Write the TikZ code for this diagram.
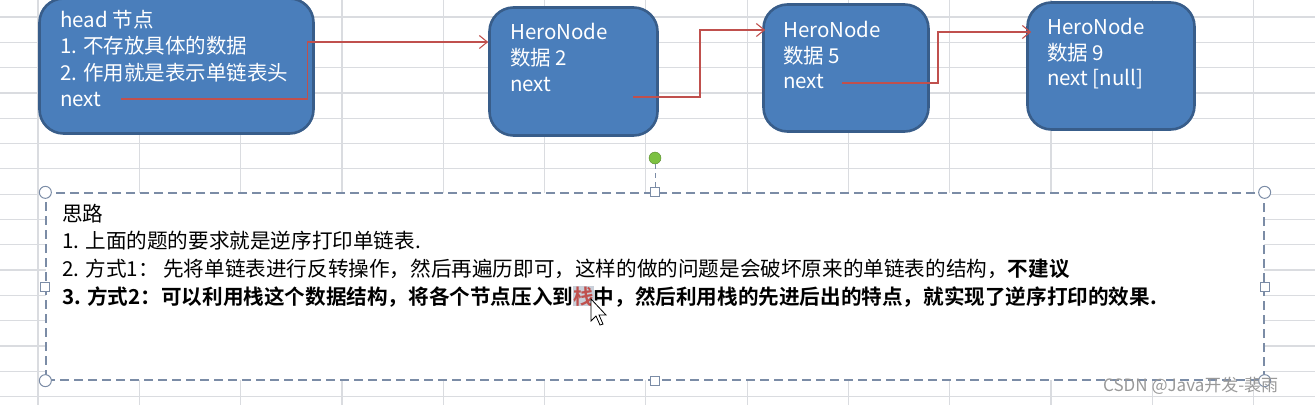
\documentclass[tikz,border=0pt]{standalone}
\usepackage{fontspec}
\setmainfont{Noto Sans CJK SC}[BoldFont={Noto Sans CJK SC Bold}]
\usetikzlibrary{arrows.meta}
\definecolor{nodoazul}{HTML}{4A7EBB}
\definecolor{bordeazul}{HTML}{385D8A}
\definecolor{flecharoja}{HTML}{C0504D}
\definecolor{rejilla}{HTML}{DADCE0}
\definecolor{marco}{HTML}{7B8CA6}
\definecolor{verde}{HTML}{7CC142}
\definecolor{resalte}{HTML}{C9CFD9}
\setlength{\fboxsep}{0pt}

\begin{document}
\begin{tikzpicture}[x=1pt,y=-1pt,
  nodo/.style={draw=bordeazul,fill=nodoazul,line width=2.6pt,rounded corners=24pt,inner sep=0pt},
  txt/.style={anchor=base west,inner sep=0pt,text=white,font=\fontsize{20.5}{24}\selectfont},
  enlace/.style={draw=flecharoja,line width=1.1pt,-{Straight Barb[length=8pt,width=13pt]}},
  idea/.style={anchor=base west,inner sep=0pt,font=\fontsize{20.6}{26}\selectfont},
  asa/.style={draw=marco,fill=white,line width=1pt}]
  \useasboundingbox (0,0) rectangle (1315,405);
  % cuadricula de la hoja
  \foreach \i in {0,...,12} \draw[rejilla,line width=1.2pt] ({38+101.3*\i},0) -- ({38+101.3*\i},405);
  \foreach \j in {0,...,15} \draw[rejilla,line width=1.2pt] (0,{17+25.3*\j}) -- (1315,{17+25.3*\j});
  % nodos de la lista
  \node[nodo,minimum width=274pt,minimum height=135pt] (head) at (176.5,66) {};
  \node[nodo,minimum width=168pt,minimum height=128pt] (n2) at (573.5,71.5) {};
  \node[nodo,minimum width=165pt,minimum height=127pt] (n5) at (846,68) {};
  \node[nodo,minimum width=167pt,minimum height=127pt] (n9) at (1111,66) {};
  \node[txt] (h1) at (60,27.5) {head 节点};
  \node[txt] (h2) at (60,53.5) {1. 不存放具体的数据};
  \node[txt] (h3) at (60,80) {2. 作用就是表示单链表头};
  \node[txt] (hnext) at (60,106) {next};
  \node[txt] (n2a) at (510,39) {HeroNode};
  \node[txt] (n2b) at (510,65) {数据 2};
  \node[txt] (n2c) at (510,91) {next};
  \node[txt] (n5a) at (783,37) {HeroNode};
  \node[txt] (n5b) at (783,63) {数据 5};
  \node[txt] (n5c) at (783,88) {next};
  \node[txt] (n9a) at (1047,34) {HeroNode};
  \node[txt] (n9b) at (1047,60) {数据 9};
  \node[txt] (n9c) at (1047,85) {next [null]};
  % enlaces next
  \coordinate (s2) at (633,97);
  \coordinate (s5) at (842,83);
  \draw[enlace] ([xshift=20pt]hnext.east) -- ++(186,0) |- ([yshift=29.5pt]n2.west);
  \draw[enlace] (s2) -- ++(67,0) |- ([xshift=3pt,yshift=38pt]n5.west);
  \draw[enlace] (s5) -- ++(96,0) |- ([xshift=5pt,yshift=34pt]n9.west);
  % cuadro de texto seleccionado
  \node[draw=marco,fill=white,line width=1.3pt,dash pattern=on 9pt off 5pt,
        minimum width=1218pt,minimum height=187pt,inner sep=0pt] (caja) at (655,286.5) {};
  \foreach \p in {north west,north east,south west,south east} \draw[asa] (caja.\p) circle (6pt);
  \foreach \p/\n in {north/mn,south/ms,west/mw,east/me}
    \node[asa,minimum size=9pt,inner sep=0pt] (\n) at (caja.\p) {};
  \node[circle,fill=verde,draw=verde!70!black,minimum size=12pt,inner sep=0pt] (giro) at (655,158) {};
  \draw[marco,line width=1pt,dash pattern=on 5pt off 4pt] (giro.south) -- (mn.north);
  \node[idea] (t0) at (62,221) {思路};
  \node[idea] (t1) at (62,248) {1. 上面的题的要求就是逆序打印单链表.};
  \node[idea] (t2) at (62,276) {2. 方式1：\ 先将单链表进行反转操作，然后再遍历即可，这样的做的问题是会破坏原来的单链表的结构，\textbf{不建议}};
  \node[idea,font=\fontsize{20.6}{26}\selectfont\bfseries] (t3) at (62,304) {3. 方式2：可以利用栈这个数据结构，将各个节点压入到\colorbox{resalte}{\textcolor{flecharoja}{栈}}中，然后利用栈的先进后出的特点，就实现了逆序打印的效果.};
  % puntero del raton
  \draw[fill=white,line width=0.8pt,shift={(591,299)}] (0,0) -- (0,22) -- (5,17) -- (9,26) -- (12,25) -- (8,16) -- (15,16) -- cycle;
  \node[anchor=base west,inner sep=0pt,text=gray!80,font=\fontsize{17}{20}\selectfont] (marca) at (1103,391) {CSDN @Java开发-裴雨};
\end{tikzpicture}
\end{document}
